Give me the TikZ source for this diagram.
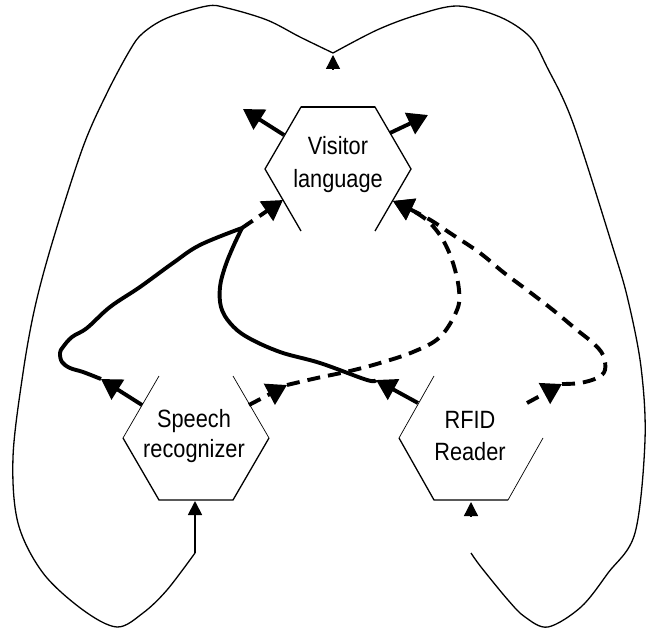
\documentclass[tikz,border=0pt]{standalone}
\usepackage{fontspec}
\setmainfont[FakeStretch=0.87]{Liberation Sans}
\usetikzlibrary{arrows.meta}
\begin{document}
\tikzset{
  hexline/.style={line width=1.3pt, line join=miter},
  thinhex/.style={line width=0.7pt},
  lbl/.style={font=\fontsize{25}{30}\selectfont, inner sep=0pt, anchor=base, text=black},
  bigtip/.style={-{Triangle[length=20pt,width=23pt]}},
  smalltip/.style={-{Triangle[length=14pt,width=14pt]}},
  flow/.style={line width=3.9pt, line cap=butt, line join=round},
  dflow/.style={flow, dash pattern=on 13pt off 8pt},
  outer/.style={line width=1.3pt},
}
\begin{tikzpicture}[x=1pt,y=-1pt]
\useasboundingbox (0,0) rectangle (648,631);
% labels
\node[lbl] (v1) at (338,155) {Visitor};
\node[lbl] (v2) at (338,188) {language};
\node[lbl] (s1) at (194,427) {Speech};
\node[lbl] (s2) at (194,457) {recognizer};
\node[lbl] (r1) at (470,428) {RFID};
\node[lbl] (r2) at (470,460) {Reader};
% hexagon corners
\coordinate (vTL) at (301,107); \coordinate (vTR) at (375,107);
\coordinate (vR) at (411,169);  \coordinate (vBR) at (375,231);
\coordinate (vBL) at (301,231); \coordinate (vL) at (265,169);
\coordinate (sTL) at (159,376); \coordinate (sTR) at (233,376);
\coordinate (sR) at (269,438);  \coordinate (sBR) at (233,500);
\coordinate (sBL) at (159,500); \coordinate (sL) at (123,438);
\coordinate (rTL) at (434,376); \coordinate (rTR) at (508,376);
\coordinate (rR) at (543,438);  \coordinate (rBR) at (508,500);
\coordinate (rBL) at (434,500); \coordinate (rL) at (399,438);
% hexagons (partial)
\draw[hexline] (vBL) -- (vL) -- (vTL) -- (vTR) -- (vR) -- (vBR);
\draw[hexline, line width=2pt] (vTL) -- (vTR);
\draw[thinhex] (sTL) -- (sL);
\draw[hexline] (sL) -- (sBL) -- (sBR) -- (sR);
\draw[thinhex] (sR) -- (sTR);
\draw[thinhex] (rTL) -- (rL);
\draw[hexline] (rL) -- (rBL) -- (rBR);
\draw[thinhex] (rBR) -- (rR);
% connection points
\coordinate (vULp) at (284,135); \coordinate (vULt) at (243,109);
\coordinate (vURp) at (390,133); \coordinate (vURt) at (428,115);
\coordinate (vLLt) at (283,200); \coordinate (vLRt) at (393,201);
\coordinate (sULp) at (142,405); \coordinate (sULt) at (101,379);
\coordinate (sURp) at (249,405); \coordinate (sURt) at (287,385);
\coordinate (rULp) at (418,403); \coordinate (rULt) at (376,380);
\coordinate (rURp) at (527,403); \coordinate (rURt) at (562,384);
\coordinate (corner) at (242,228);
\coordinate (dip) at (333,55);
\coordinate (dipb) at (333,69);
\coordinate (sB) at (195,501);
\coordinate (sBs) at (195,553);
\coordinate (rB) at (471,502);
\coordinate (rBs) at (471,516);
% stubs from Visitor
\draw[flow,bigtip] (vULp) -- (vULt);
\draw[flow,bigtip] (vURp) -- (vURt);
% solid from Speech
\draw[flow,bigtip] (sULp) -- (sULt);
\draw[flow] plot[smooth,tension=0.6] coordinates {(sULt) (83,372) (70,368) (62,362) (60,353) (63,347) (72,337) (87,328) (110,307) (140,287) (173,263) (200,245) (corner)};
% solid from RFID
\draw[flow,bigtip] (rULp) -- (rULt);
\draw[flow] plot[smooth,tension=0.6] coordinates {(rULt) (367,380) (320,363) (280,352) (247,337) (230,323) (221,307) (220,287) (225,267) (233,247) (corner)};
% dashed corner to Visitor
\draw[dflow,bigtip] (corner) -- (vLLt);
% dashed from Speech
\draw[dflow,bigtip] (sURp) -- (sURt);
\draw[dflow,bigtip] plot[smooth,tension=0.6] coordinates {(sURt) (317,378) (350,371) (380,363) (413,352) (440,337) (457,310) (459,290) (453,263) (443,240) (430,223) (415,212) (vLRt)};
% dashed from RFID
\draw[dflow,bigtip] (rURp) -- (rURt);
\draw[dflow,bigtip] plot[smooth,tension=0.6] coordinates {(rURt) (580,383) (597,378) (605,370) (603,355) (593,343) (577,330) (553,310) (527,290) (503,272) (480,253) (450,233) (427,218) (vLRt)};
% outer loops
\draw[outer,smalltip] (dipb) -- (dip);
\draw[outer] plot[smooth,tension=0.55] coordinates {(333,53) (300,37) (267,20) (227,8) (207,6) (167,18) (143,33) (130,50) (107,93) (83,147) (53,240) (35,307) (23,373) (13,457) (18,523) (43,573) (83,610) (117,627) (143,613) (167,590) (sBs)};
\draw[outer,line width=1.8pt,smalltip] (sBs) -- (sB);
\draw[outer] plot[smooth,tension=0.55] coordinates {(333,53) (377,30) (417,15) (458,6) (500,17) (530,37) (547,67) (573,123) (613,248) (628,300) (641,367) (645,440) (635,533) (608,573) (581,607) (548,627) (525,617) (508,600) (481,567) (471,553)};
\draw[outer,smalltip] (rBs) -- (rB);
\end{tikzpicture}
\end{document}
